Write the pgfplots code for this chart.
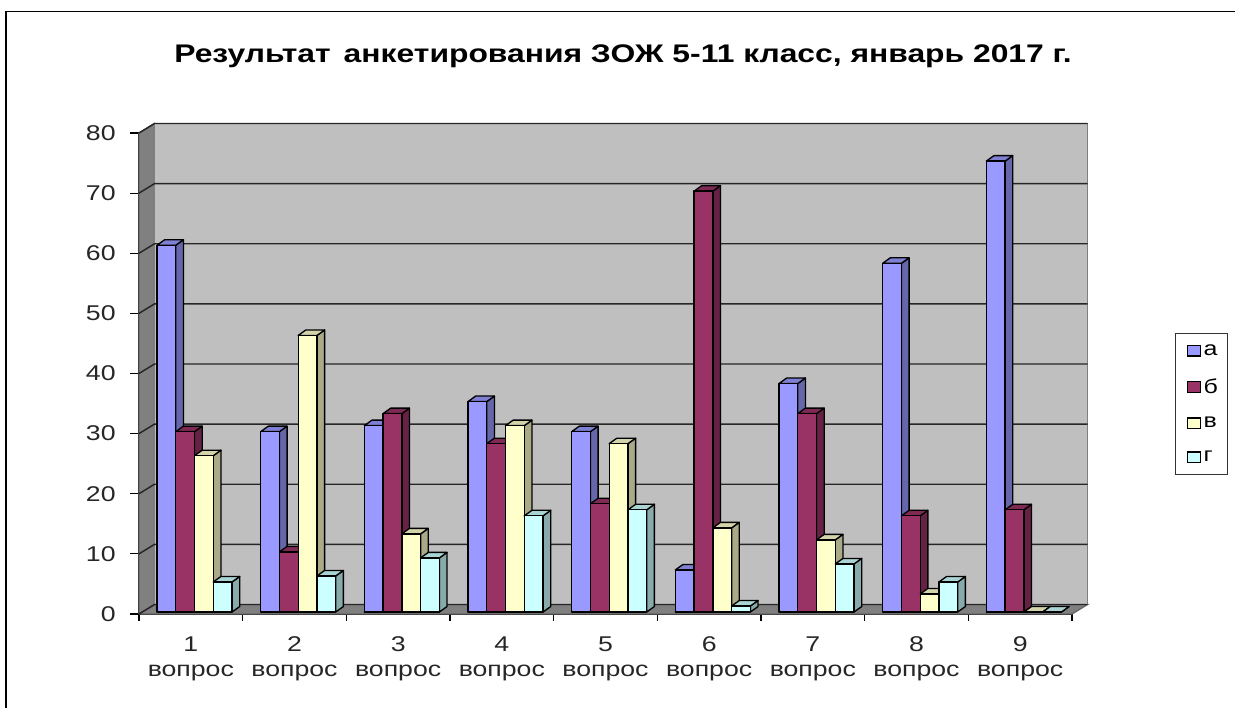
\documentclass[border=0pt]{standalone}
\usepackage{pgfplots}
\pgfplotsset{compat=1.18}
\usepackage{fontspec}
\setmainfont[FakeStretch=1.25]{Liberation Sans}
\definecolor{afront}{HTML}{9999FF}\definecolor{aside}{HTML}{6666AA}\definecolor{atop}{HTML}{7F7FD4}
\definecolor{bfront}{HTML}{993366}\definecolor{bside}{HTML}{662244}\definecolor{btop}{HTML}{7F2A55}
\definecolor{cfront}{HTML}{FFFFCC}\definecolor{cside}{HTML}{AAAA88}\definecolor{ctop}{HTML}{D4D4AA}
\definecolor{dfront}{HTML}{CCFFFF}\definecolor{dside}{HTML}{88AAAA}\definecolor{dtop}{HTML}{AAD4D4}
\def\bw{0.181}\def\ddx{0.074}\def\ddy{0.915}\def\bz{0.33}
\def\wdx{0.1495}\def\wdy{1.58}
\newcommand\onebar[3]{% x start, value, colour prefix
  \addplot[forget plot,fill=#3side,draw=black,line width=1pt,line cap=round,line join=round,mark=none]
    coordinates {(#1+\bw,\bz) (#1+\bw+\ddx,\bz+\ddy) (#1+\bw+\ddx,#2+\bz+\ddy) (#1+\bw,#2+\bz) (#1+\bw,\bz)};
  \addplot[forget plot,fill=#3top,draw=black,line width=1pt,line cap=round,line join=round,mark=none]
    coordinates {(#1,#2+\bz) (#1+\ddx,#2+\bz+\ddy) (#1+\bw+\ddx,#2+\bz+\ddy) (#1+\bw,#2+\bz) (#1,#2+\bz)};
  \addplot[forget plot,fill=#3front,draw=black,line width=1pt,line cap=round,line join=round,mark=none]
    coordinates {(#1,\bz) (#1,#2+\bz) (#1+\bw,#2+\bz) (#1+\bw,\bz) (#1,\bz)};
}
\newcommand\group[5]{%
  \onebar{#1+0.1736}{#2}{a}\onebar{#1+0.3546}{#3}{b}\onebar{#1+0.5356}{#4}{c}\onebar{#1+0.7166}{#5}{d}}
\begin{document}
\begin{tikzpicture}
\useasboundingbox (0,0) rectangle (926.25pt,531pt);
\draw[black,line width=1pt] (4.5pt,0) -- (4.5pt,522.4pt) -- (926.25pt,522.4pt);
\begin{axis}[
  at={(104.25pt,70.5pt)},anchor=south west,
  scale only axis,width=699.75pt,height=360.75pt,
  xmin=0,xmax=9,ymin=0,ymax=80,clip=false,
  axis x line*=bottom,axis y line*=left,
  axis line style={-,black,line width=1pt},
  xtick={0.5,1.5,...,8.5},
  xticklabels={1\\вопрос,2\\вопрос,3\\вопрос,4\\вопрос,5\\вопрос,6\\вопрос,7\\вопрос,8\\вопрос,9\\вопрос},
  minor xtick={0,1,...,9},
  ytick={0,10,...,80},
  major x tick style={draw=none},
  minor tick length=5pt,
  major tick length=6.5pt,
  tick align=outside,
  tick style={black,line width=0.9pt},
  /pgf/number format/assume math mode=true,
  every tick label/.append style={font=\fontsize{16}{18.75}\selectfont,text=black!85},
  x tick label style={align=center,yshift=-6.75pt},
  y tick label style={xshift=-7.5pt},
  title={\fontsize{19.1}{22}\bfseries\selectfont Результат\, анкетирования ЗОЖ 5-11 класс, январь 2017 г.},
  title style={at={(0.5188,1.143)},anchor=center},
  legend style={at={(1.1104,0.584)},anchor=north west,draw=black!80,line width=0.8pt,
    font=\fontsize{15}{17}\selectfont,row sep=12.2pt,inner xsep=5pt,inner ysep=6pt,
    /tikz/every even column/.append style={column sep=3pt}},
  legend cell align=left,
  legend image code/.code={\path[draw=none,fill=none] (0pt,0pt) -- (3.75pt,0pt);\draw[#1,line width=1pt] (3.75pt,-4pt) rectangle (13.5pt,4pt);},
]
% floor and walls
\addplot[forget plot,fill=black!50,draw=black!60,line width=1pt,mark=none]
  coordinates {(0,0) (9,0) (9+\wdx,\wdy) (\wdx,\wdy) (0,0)};
\addplot[forget plot,fill=black!50,draw=black!60,line width=1pt,mark=none]
  coordinates {(0,0) (0,80) (\wdx,80+\wdy) (\wdx,\wdy) (0,0)};
\addplot[forget plot,fill=black!25,draw=black!50,line width=1pt,mark=none]
  coordinates {(\wdx,\wdy) (\wdx,80+\wdy) (9+\wdx,80+\wdy) (9+\wdx,\wdy) (\wdx,\wdy)};
\pgfplotsinvokeforeach{0,10,...,80}{
  \addplot[forget plot,draw=black!85,line width=1.1pt,mark=none]
    coordinates {(0,#1) (\wdx,#1+\wdy) (9+\wdx,#1+\wdy)};
}
% data
\group{0}{61}{30}{26}{5}
\group{1}{30}{10}{46}{6}
\group{2}{31}{33}{13}{9}
\group{3}{35}{28}{31}{16}
\group{4}{30}{18}{28}{17}
\group{5}{7}{70}{14}{1}
\group{6}{38}{33}{12}{8}
\group{7}{58}{16}{3}{5}
\group{8}{75}{17}{0}{0}
\addlegendimage{fill=afront,draw=black}\addlegendentry{а}
\addlegendimage{fill=bfront,draw=black}\addlegendentry{б}
\addlegendimage{fill=cfront,draw=black}\addlegendentry{в}
\addlegendimage{fill=dfront,draw=black}\addlegendentry{г}
\end{axis}
\end{tikzpicture}
\end{document}
